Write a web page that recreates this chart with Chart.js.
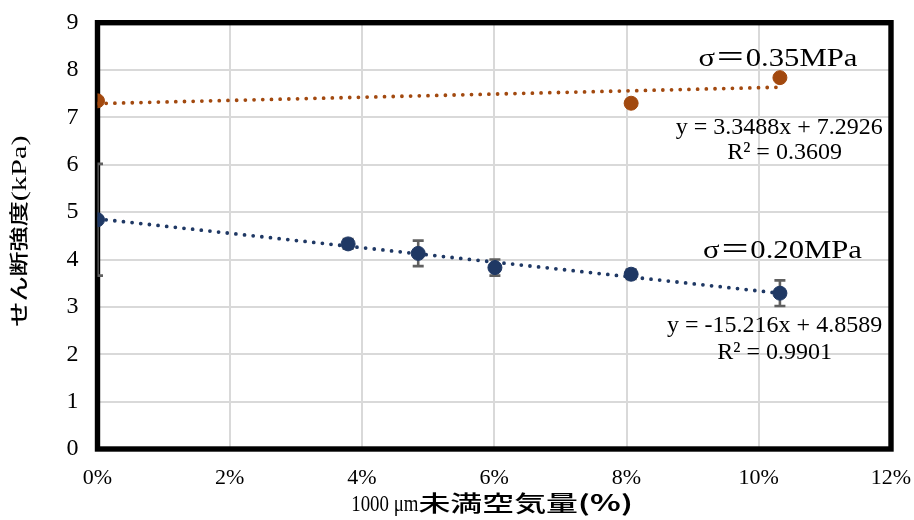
<!DOCTYPE html>
<html>
<head>
<meta charset="utf-8">
<script src="https://cdn.jsdelivr.net/npm/chart.js@4.4.1/dist/chart.umd.min.js"></script>
<style>
  html, body { margin: 0; padding: 0; background: #ffffff; }
  #wrap { width: 914px; height: 520px; }
</style>
</head>
<body>
<div id="wrap"><canvas id="chart" width="914" height="520"></canvas></div>
<script>
// Air content below 1000 μm (%) and shear strength (kPa)
const airLow = [0, 3.79, 4.85, 6.01, 8.07, 10.32];
const shearLow = [4.84, 4.33, 4.13, 3.83, 3.69, 3.29];
const errorLow = [1.18, 0.10, 0.27, 0.17, 0.10, 0.27];

const airHigh = [0, 8.07, 10.32];
const shearHigh = [7.35, 7.30, 7.84];

// Linear trend fits, x taken as a fraction: [slope, intercept]
const trendLowCoef = [-15.216, 4.8589];
const trendHighCoef = [3.3488, 7.2926];

// Annotation texts
const labelLow = ['σ＝0.20MPa', 'y = -15.216x + 4.8589', 'R² = 0.9901'];
const labelHigh = ['σ＝0.35MPa', 'y = 3.3488x + 7.2926', 'R² = 0.3609'];

// Axis ranges: [min, max, step]
const xRange = [0, 12, 2];
const yRange = [0, 9, 1];

const ORANGE = '#a2490f';
const NAVY = '#1f3864';
const SERIF = "'Liberation Serif', 'Times New Roman', 'Noto Sans CJK JP', serif";
const CJK = "'Noto Sans CJK JP', 'Noto Sans', sans-serif";

function pts(xs, ys) { return xs.map((v, i) => ({ x: v, y: ys[i] })); }
function trendPts(xs, coef) {
  const x0 = Math.min(...xs), x1 = Math.max(...xs);
  return [x0, x1].map(v => ({ x: v, y: coef[0] * v / 100 + coef[1] }));
}

// Draws a sequence of text runs, each with its own font and horizontal scale
function drawRuns(ctx, runs, cx, cy, angle) {
  ctx.save();
  ctx.translate(cx, cy);
  ctx.rotate(angle);
  ctx.textAlign = 'left';
  ctx.textBaseline = 'alphabetic';
  let total = 0;
  const widths = runs.map(r => {
    ctx.font = r[1];
    const w = ctx.measureText(r[0]).width * r[2];
    total += w;
    return w;
  });
  let pos = -total / 2;
  runs.forEach((r, i) => {
    ctx.save();
    ctx.translate(pos, 0);
    ctx.scale(r[2], 1);
    ctx.font = r[1];
    ctx.fillText(r[0], 0, 0);
    ctx.restore();
    pos += widths[i];
  });
  ctx.restore();
}

const frameAndErrors = {
  id: 'frameAndErrors',
  beforeDatasetsDraw(chart) {
    const { ctx, chartArea: a, scales: { x, y } } = chart;
    ctx.save();
    // heavy plot frame
    ctx.strokeStyle = '#000000';
    ctx.lineWidth = 5.4;
    ctx.strokeRect(a.left, a.top, a.right - a.left, a.bottom - a.top);
    // error bars, kept inside the plot area
    ctx.beginPath();
    ctx.rect(a.left, a.top, a.right - a.left, a.bottom - a.top);
    ctx.clip();
    ctx.strokeStyle = '#606060';
    ctx.lineWidth = 2.6;
    airLow.forEach((v, i) => {
      const px = x.getPixelForValue(v);
      const top = y.getPixelForValue(shearLow[i] + errorLow[i]);
      const bot = y.getPixelForValue(shearLow[i] - errorLow[i]);
      ctx.beginPath();
      ctx.moveTo(px, top); ctx.lineTo(px, bot);
      ctx.moveTo(px - 5.5, top); ctx.lineTo(px + 5.5, top);
      ctx.moveTo(px - 5.5, bot); ctx.lineTo(px + 5.5, bot);
      ctx.stroke();
    });
    ctx.restore();
  }
};

const textLayer = {
  id: 'textLayer',
  afterDraw(chart) {
    const { ctx, scales: { x, y } } = chart;
    ctx.save();
    ctx.fillStyle = '#000000';
    const sigma = "26px " + SERIF;
    const eq = "24px " + SERIF;
    // σ = 0.35 MPa series labels
    drawRuns(ctx, [[labelHigh[0], sigma, 1.18]], x.getPixelForValue(10.29), y.getPixelForValue(8.09), 0);
    drawRuns(ctx, [[labelHigh[1], eq, 1]], x.getPixelForValue(10.31), y.getPixelForValue(6.65), 0);
    drawRuns(ctx, [[labelHigh[2], eq, 1]], x.getPixelForValue(10.39), y.getPixelForValue(6.12), 0);
    // σ = 0.20 MPa series labels
    drawRuns(ctx, [[labelLow[0], sigma, 1.18]], x.getPixelForValue(10.36), y.getPixelForValue(4.03), 0);
    drawRuns(ctx, [[labelLow[1], eq, 1]], x.getPixelForValue(10.24), y.getPixelForValue(2.47), 0);
    drawRuns(ctx, [[labelLow[2], eq, 1]], x.getPixelForValue(10.24), y.getPixelForValue(1.91), 0);

    // axis titles
    drawRuns(ctx, [
      ['1000 μm', "23px " + SERIF, 0.82],
      ['未満空気量', "500 22px " + CJK, 1.45],
      ['(%)', "bold 22px " + CJK, 1.45]
    ], 492, 511, 0);
    drawRuns(ctx, [
      ['せん断強度', "500 19px " + CJK, 1.32],
      ['(kPa)', "21px " + SERIF, 1.45]
    ], 26, 231, -Math.PI / 2);
    ctx.restore();
  }
};

const gridColor = '#d9d9d9';

new Chart(document.getElementById('chart'), {
  type: 'scatter',
  data: {
    datasets: [
      {
        label: 'σ=0.35MPa',
        data: pts(airHigh, shearHigh),
        backgroundColor: ORANGE,
        borderColor: ORANGE,
        pointRadius: 7,
        pointBorderWidth: 1,
        showLine: false
      },
      {
        label: 'σ=0.20MPa',
        data: pts(airLow, shearLow),
        backgroundColor: NAVY,
        borderColor: NAVY,
        pointRadius: 7,
        pointBorderWidth: 1,
        showLine: false
      },
      {
        label: 'trend 0.35',
        data: trendPts(airHigh, trendHighCoef),
        showLine: true,
        borderColor: ORANGE,
        borderWidth: 3.8,
        borderDash: [0, 8.7],
        borderCapStyle: 'round',
        pointRadius: 0,
        fill: false
      },
      {
        label: 'trend 0.20',
        data: trendPts(airLow, trendLowCoef),
        showLine: true,
        borderColor: NAVY,
        borderWidth: 3.8,
        borderDash: [0, 8.7],
        borderCapStyle: 'round',
        pointRadius: 0,
        fill: false
      }
    ]
  },
  options: {
    responsive: false,
    animation: false,
    devicePixelRatio: 1,
    layout: { padding: { left: 0, right: 23, top: 22.7, bottom: 0 } },
    plugins: {
      legend: { display: false },
      tooltip: { enabled: false },
      title: { display: false }
    },
    scales: {
      x: {
        type: 'linear',
        min: xRange[0], max: xRange[1],
        ticks: {
          stepSize: xRange[2],
          padding: 16,
          color: '#000000',
          font: { family: SERIF, size: 22 },
          maxRotation: 0,
          callback: v => v + '%'
        },
        grid: { color: gridColor, lineWidth: 2, drawTicks: false },
        border: { display: false },
        afterFit(scale) {
          scale.height = 71;
          scale.paddingLeft = 0;
          scale.paddingRight = 0;
        }
      },
      y: {
        type: 'linear',
        min: yRange[0], max: yRange[1],
        ticks: {
          stepSize: yRange[2],
          padding: 19,
          color: '#000000',
          font: { family: SERIF, size: 24 }
        },
        grid: { color: gridColor, lineWidth: 2, drawTicks: false },
        border: { display: false },
        afterFit(scale) {
          scale.width = 97.5;
          scale.paddingTop = 0;
          scale.paddingBottom = 0;
        }
      }
    }
  },
  plugins: [frameAndErrors, textLayer]
});
</script>
</body>
</html>
